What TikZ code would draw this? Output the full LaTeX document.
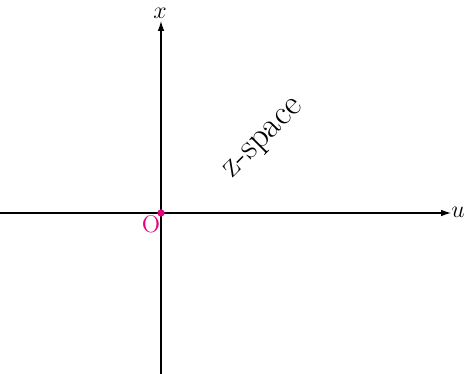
\documentclass[tikz,border=0pt]{standalone}
\usetikzlibrary{arrows.meta}
\definecolor{orig}{RGB}{230,0,126}
\begin{document}
\begin{tikzpicture}[x=0.6pt,y=-0.6pt,
  axis/.style={line width=0.7pt,-{Latex[length=6pt,width=4pt]}},
  lbl/.style={inner sep=0pt}]
\useasboundingbox (0,0) rectangle (465,374);
\coordinate (uL) at (0,213);
\coordinate (uR) at (451,213);
\coordinate (xB) at (161,374);
\coordinate (xT) at (161,21);
\draw[axis] (uL) -- (uR);
\draw[axis] (xB) -- (xT);
\node[lbl,font=\fontsize{14}{16}\selectfont] (ul) at (458,212) {$u$};
\node[lbl,font=\fontsize{14}{16}\selectfont] (xl) at (160,13) {$x$};
\fill[orig] (161,213) circle (2.2pt) coordinate (O);
\node[lbl,text=orig,font=\fontsize{14.4}{17}\selectfont] (Ol) at (151,224.5) {O};
\node[lbl,rotate=45,font=\fontsize{21}{25}\selectfont] (zs) at (265,140) {z-space};
\end{tikzpicture}
\end{document}
